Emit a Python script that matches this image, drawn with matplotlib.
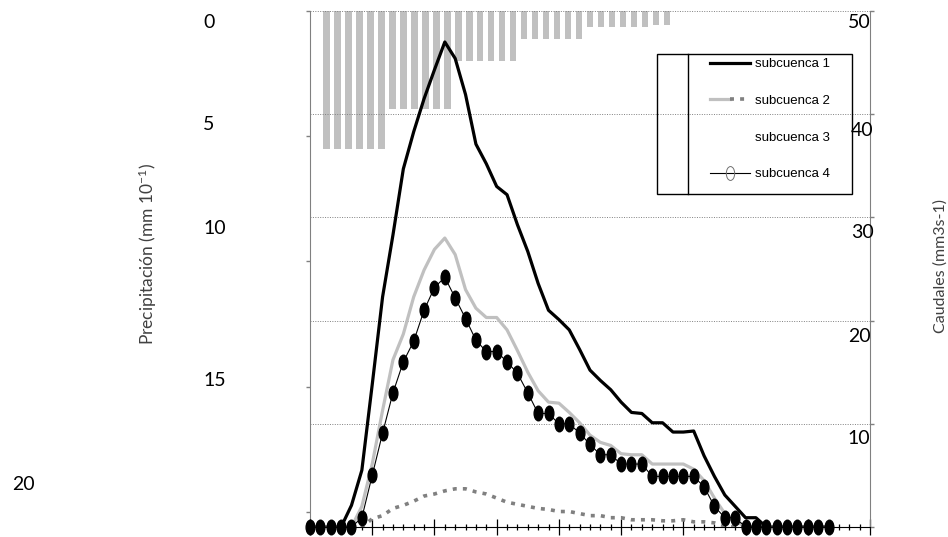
import numpy as np
import matplotlib
matplotlib.use('Agg')
import matplotlib.pyplot as plt
from matplotlib.lines import Line2D
from matplotlib.markers import MarkerStyle
from matplotlib.transforms import Affine2D
from matplotlib.patches import Rectangle
from matplotlib.legend_handler import HandlerTuple

plt.rcParams['font.family'] = ['Lato', 'DejaVu Sans']
plt.rcParams['mathtext.fontset'] = 'custom'
plt.rcParams['mathtext.rm'] = 'Lato'
plt.rcParams['mathtext.it'] = 'Lato'

# precipitacion (mm 10-1), 32 intervalos
precip = [5.5] * 6 + [3.9] * 6 + [2.0] * 6 + [1.1] * 6 + [0.65] * 6 + [0.55] * 2

# caudales (mm3 s-1), 51 pasos de tiempo
sub1 = [0, 0, 0, 0, 2.1, 5.5, 13.8, 22.3, 28.3, 34.7, 38.3, 41.5, 44.3, 47.0,
        45.4, 41.9, 37.1, 35.2, 33.0, 32.2, 29.3, 26.7, 23.6, 21.0, 20.1, 19.1,
        17.2, 15.2, 14.2, 13.3, 12.1, 11.1, 11.0, 10.1, 10.1, 9.2, 9.2, 9.3,
        6.9, 4.9, 3.1, 2.0, 0.9, 0.9, 0, 0, 0, 0, 0, 0, 0]
sub2 = [0, 0, 0, 0, 0, 2.0, 6.1, 11.3, 16.2, 18.7, 22.3, 24.9, 26.9, 28.0,
        26.4, 23.0, 21.2, 20.3, 20.3, 19.1, 17.1, 15.0, 13.2, 12.1, 12.0, 11.1,
        10.1, 8.9, 8.2, 7.9, 7.1, 7.0, 7.0, 6.1, 6.1, 6.1, 6.1, 5.6, 4.5, 2.8,
        1.3, 0.6, 0, 0, 0, 0, 0, 0, 0, 0, 0]
sub3 = [0, 0, 0, 0, 0, 0, 0.8, 1.1, 1.8, 2.1, 2.5, 3.0, 3.2, 3.5, 3.7, 3.7,
        3.4, 3.2, 2.8, 2.4, 2.2, 2.0, 1.8, 1.7, 1.5, 1.5, 1.3, 1.1, 1.1, 0.9,
        0.9, 0.7, 0.7, 0.7, 0.6, 0.6, 0.7, 0.5, 0.5, 0.4, 0.1,
        0, 0, 0, 0, 0, 0, 0, 0, 0, 0]
sub4 = [0, 0, 0, 0, 0, 0.9, 5.0, 9.1, 13.0, 16.0, 18.0, 21.0, 23.2, 24.2,
        22.2, 20.2, 18.1, 17.0, 17.0, 16.0, 14.9, 13.0, 11.0, 11.0, 10.0, 10.0,
        9.1, 8.0, 7.0, 7.0, 6.1, 6.1, 6.1, 4.9, 4.9, 4.9, 4.9, 4.9, 3.9, 2.0,
        0.9, 0.9, 0, 0, 0, 0, 0, 0, 0, 0, 0]
labels = ['subcuenca 1', 'subcuenca 2', 'subcuenca 3', 'subcuenca 4']

left_ticks = ['0', '5', '10', '15', '20']
right_ticks = ['50', '40', '30', '20', '10']

W, H = 948, 537
fig = plt.figure(figsize=(W / 100, H / 100), dpi=100)
rect = [310 / W, 1 - 527 / H, 560 / W, 516 / H]

# --- precipitacion (barras, eje izquierdo invertido)
ax_p = fig.add_axes(rect)
xb = np.arange(len(precip))
ax_p.bar(xb, precip, width=0.6, color='#c0c0c0', zorder=1)
ax_p.set_xlim(-1.5, 49.5)
ax_p.set_ylim(20.6, 0)
ax_p.set_yticks([0, 5, 10, 15, 20])
ax_p.set_yticklabels([])
ax_p.tick_params(axis='y', direction='out', length=3, color='#808080', width=1)
ax_p.set_xticks([])
for s in ['top', 'right', 'bottom']:
    ax_p.spines[s].set_visible(False)
ax_p.spines['left'].set_color('#808080')

# --- caudales (lineas, eje derecho)
ax_q = fig.add_axes(rect, facecolor='none')
x = np.arange(len(sub1))
oval = MarkerStyle('o', transform=Affine2D().scale(0.6, 1.0))

ax_q.plot(x, sub1, color='black', lw=2.3, zorder=3)
ax_q.plot(x, sub2, color='#c0c0c0', lw=2.3, zorder=3)
ax_q.plot(x, sub3, color='#808080', lw=2.6, linestyle=(0, (1.1, 1.7)), zorder=3)
ax_q.plot(x, sub4, color='black', lw=0.8, marker=oval, markersize=10.5,
          markerfacecolor='black', markeredgecolor='black', zorder=4, clip_on=False)

ax_q.set_xlim(0, 54)
ax_q.set_ylim(0, 50)
ax_q.set_xticks(np.arange(0, 55, 6))
ax_q.set_xticks(np.arange(0, 55, 1), minor=True)
ax_q.set_xticklabels([])
ax_q.tick_params(axis='x', which='major', direction='inout', length=12, width=0.9, color='black')
ax_q.tick_params(axis='x', which='minor', direction='inout', length=5, width=0.9, color='black')
ax_q.yaxis.tick_right()
ax_q.set_yticks([0, 10, 20, 30, 40, 50])
ax_q.set_yticklabels([])
ax_q.tick_params(axis='y', direction='out', length=3, color='#808080', width=1)
ax_q.yaxis.grid(True, linestyle=(0, (1, 1.5)), color='#808080', lw=0.7)
ax_q.set_axisbelow(True)
ax_q.spines['left'].set_visible(False)
ax_q.spines['top'].set_visible(False)
ax_q.spines['right'].set_color('#808080')
ax_q.spines['bottom'].set_color('black')

# etiquetas de ejes (colocadas como en el original)
for lab, (px, py) in zip(left_ticks, [(203, 22), (203, 125), (203, 228), (203, 381), (12, 485)]):
    fig.text(px / W, 1 - py / H, lab, ha='left', va='center', fontsize=14)
for lab, (px, py) in zip(right_ticks, [(859, 22), (862, 130), (862, 233), (859, 336), (859, 438)]):
    fig.text(px / W, 1 - py / H, lab, ha='center', va='center', fontsize=14)

fig.text(148 / W, 1 - 254 / H, 'Precipitación (mm 10$^{-1}$)', rotation=90,
         ha='center', va='center', fontsize=12.5, color='#404040')
fig.text(941 / W, 1 - 266 / H, 'Caudales (mm3s-1)', rotation=90,
         ha='center', va='center', fontsize=11.5, color='#404040')

# leyenda
fig.patches.append(Rectangle((657 / W, 1 - 194 / H), 195 / W, 140 / H, fill=False,
                             edgecolor='black', lw=1, transform=fig.transFigure))
fig.lines.append(Line2D([688 / W, 688 / W], [1 - 194 / H, 1 - 54 / H], color='black',
                        lw=1, transform=fig.transFigure))
oval_open = MarkerStyle('o', fillstyle='none', transform=Affine2D().scale(0.6, 1.0))
h1 = Line2D([], [], color='black', lw=2.3)
h2 = (Line2D([], [], color='#c0c0c0', lw=2.3),
      Line2D([], [], color='#808080', lw=2.6, linestyle=(0, (1.1, 1.7))))
h3 = Line2D([], [], color='none')
h4 = Line2D([], [], color='black', lw=0.8, marker=oval_open, markersize=10,
            markeredgecolor='#707070', markeredgewidth=0.7)
leg = fig.legend([h1, h2, h3, h4], labels, loc='upper left',
                 bbox_to_anchor=(710 / W, 1 - 58 / H), frameon=False,
                 prop={'family': 'Liberation Sans', 'size': 9.5},
                 handlelength=3.0, handletextpad=0.4, labelspacing=1.85,
                 borderpad=0, borderaxespad=0,
                 handler_map={tuple: HandlerTuple(ndivide=None)})

fig.savefig('out.png', dpi=100)
